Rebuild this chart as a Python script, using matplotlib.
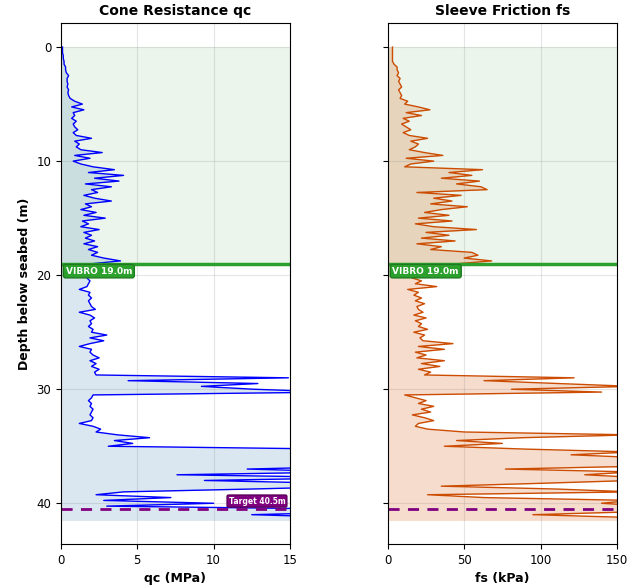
import numpy as np
import matplotlib
matplotlib.use('Agg')
import matplotlib.pyplot as plt

# CPT profile, sampled every 0.25 m (0 .. 41.5 m)
depth = np.arange(0, 41.51, 0.25)

qc = [0.1, 0.1, 0.1, 0.15,
      0.15, 0.2, 0.2, 0.3,
      0.3, 0.35, 0.5, 0.4,
      0.4, 0.45, 0.4, 0.5,
      0.45, 0.5, 0.6, 0.9,
      1.4, 0.7, 1.5, 0.8,
      0.9, 0.7, 1.0, 0.8,
      0.9, 1.1, 0.8, 1.0,
      2.0, 0.9, 1.2, 1.0,
      1.3, 2.7, 0.9, 1.9,
      0.8, 1.3, 2.1, 3.5,
      1.8, 4.1, 2.2, 3.8,
      1.6, 3.3, 2.0, 2.4,
      1.5, 2.2, 3.3, 1.6,
      2.0, 1.3, 2.3, 1.5,
      2.9, 1.4, 1.8, 1.3,
      2.5, 1.5, 2.0, 1.6,
      2.2, 1.5, 2.4, 1.8,
      2.4, 2.0, 2.8, 3.9,
      2.0, 1.8, 1.9, 1.7,
      2.0, 1.7, 1.9, 1.8,
      1.7, 1.2, 1.9, 1.8,
      2.0, 1.8, 1.9, 2.0,
      2.25, 1.2, 1.9, 2.2,
      1.9, 2.0, 1.8, 2.1,
      2.0, 3.0, 1.9, 2.8,
      1.9, 1.2, 2.0, 1.9,
      2.1, 2.5, 1.9, 2.3,
      2.0, 2.5, 2.2, 2.3,
      14.9, 4.4, 12.9, 9.2,
      12.6, 18.0, 2.1, 2.0,
      1.8, 2.0, 1.9, 2.1,
      2.0, 1.9, 2.1, 2.0,
      1.2, 2.1, 2.6, 2.3,
      3.7, 5.8, 3.5, 4.7,
      3.1, 18.0, 20.0, 17.0,
      19.0, 21.0, 18.0, 20.0,
      12.2, 19.0, 7.6, 20.0,
      9.4, 18.0, 20.0, 12.5,
      4.1, 2.3, 7.2, 2.8,
      10.0, 3.0, 18.0, 20.0,
      12.5, 19.0, 20.0]

fs = [3, 3, 3, 3,
      3, 3, 4, 6,
      6, 7, 6, 8,
      7, 8, 9, 7,
      8, 9, 8, 13,
      11, 20, 27.5, 12,
      22, 10, 14, 9,
      12, 15, 10, 14,
      26, 15, 20, 18,
      14, 24, 36, 12,
      30, 15, 11, 62,
      40, 55, 35, 60,
      45, 61, 65, 19,
      48, 30, 42, 28,
      52, 35, 24, 40,
      20, 42, 18, 30,
      58, 25, 40, 22,
      44, 19, 35, 28,
      55, 59, 50, 68,
      45, 28, 22, 18,
      25, 16, 22, 18,
      32, 13, 20, 17,
      22, 18, 24, 19,
      20, 23, 17, 25,
      18, 22, 20, 26,
      17, 24, 21, 23,
      42.6, 20, 37, 18,
      25, 19, 37, 22,
      34, 20, 28, 24,
      122, 63, 112, 160,
      81, 140, 11, 18,
      25, 20, 30, 22,
      28, 16, 24, 30,
      20, 18, 26, 50,
      160, 88, 45, 75,
      37, 90, 160, 120,
      165, 170, 160, 165,
      77, 160, 129, 165,
      160, 100, 35, 110,
      160, 26, 63, 160,
      140, 170, 165, 160,
      95, 160, 170]

vibro_depth = 19.0
target_depth = 40.5

panels = [
    (qc, 'blue', 'steelblue', 'Cone Resistance qc', 'qc (MPa)', 15, [0, 5, 10, 15]),
    (fs, '#cc4c02', '#d35400', 'Sleeve Friction fs', 'fs (kPa)', 150, [0, 50, 100, 150]),
]

fig, axes = plt.subplots(1, 2, figsize=(6.32, 5.85), dpi=100, sharey=True)
fig.subplots_adjust(left=0.0965, right=0.976, bottom=0.07, top=0.96, wspace=0.428)

for i, (vals, lc, fc, title, xlabel, xmax, xt) in enumerate(panels):
    ax = axes[i]
    ax.axhspan(0, vibro_depth, color='green', alpha=0.08, lw=0)
    ax.fill_betweenx(depth, 0, vals, color=fc, alpha=0.2, lw=0)
    ax.plot(vals, depth, color=lc, lw=1.0)
    ax.axhline(vibro_depth, color='#2ca02c', lw=2.5)
    ax.text(0.02, vibro_depth + 0.25, 'VIBRO 19.0m', transform=ax.get_yaxis_transform(),
            color='white', fontsize=6.5, fontweight='bold', ha='left', va='top',
            bbox=dict(boxstyle='round,pad=0.25', fc='#2ca02c', ec='#1f7a1f'))
    ax.axhline(target_depth, color='purple', lw=2, ls=(0, (4, 3)))
    if i == 0:
        ax.text(0.98, target_depth - 0.3, 'Target 40.5m', transform=ax.get_yaxis_transform(),
                color='white', fontsize=5.5, fontweight='bold', ha='right', va='bottom',
                bbox=dict(boxstyle='round,pad=0.2', fc='purple', ec='#5a005a'))
    ax.set_xlim(0, xmax)
    ax.set_xticks(xt)
    ax.set_title(title, fontsize=10, fontweight='bold')
    ax.set_xlabel(xlabel, fontsize=9, fontweight='bold')
    ax.grid(True, color='gray', alpha=0.2, lw=0.8)
    ax.tick_params(labelsize=8.5)

axes[0].set_yticks([0, 10, 20, 30, 40])
axes[0].set_ylim(43.575, -2.075)
axes[0].set_ylabel('Depth below seabed (m)', fontsize=9, fontweight='bold')

fig.savefig('out.png', dpi=100)
